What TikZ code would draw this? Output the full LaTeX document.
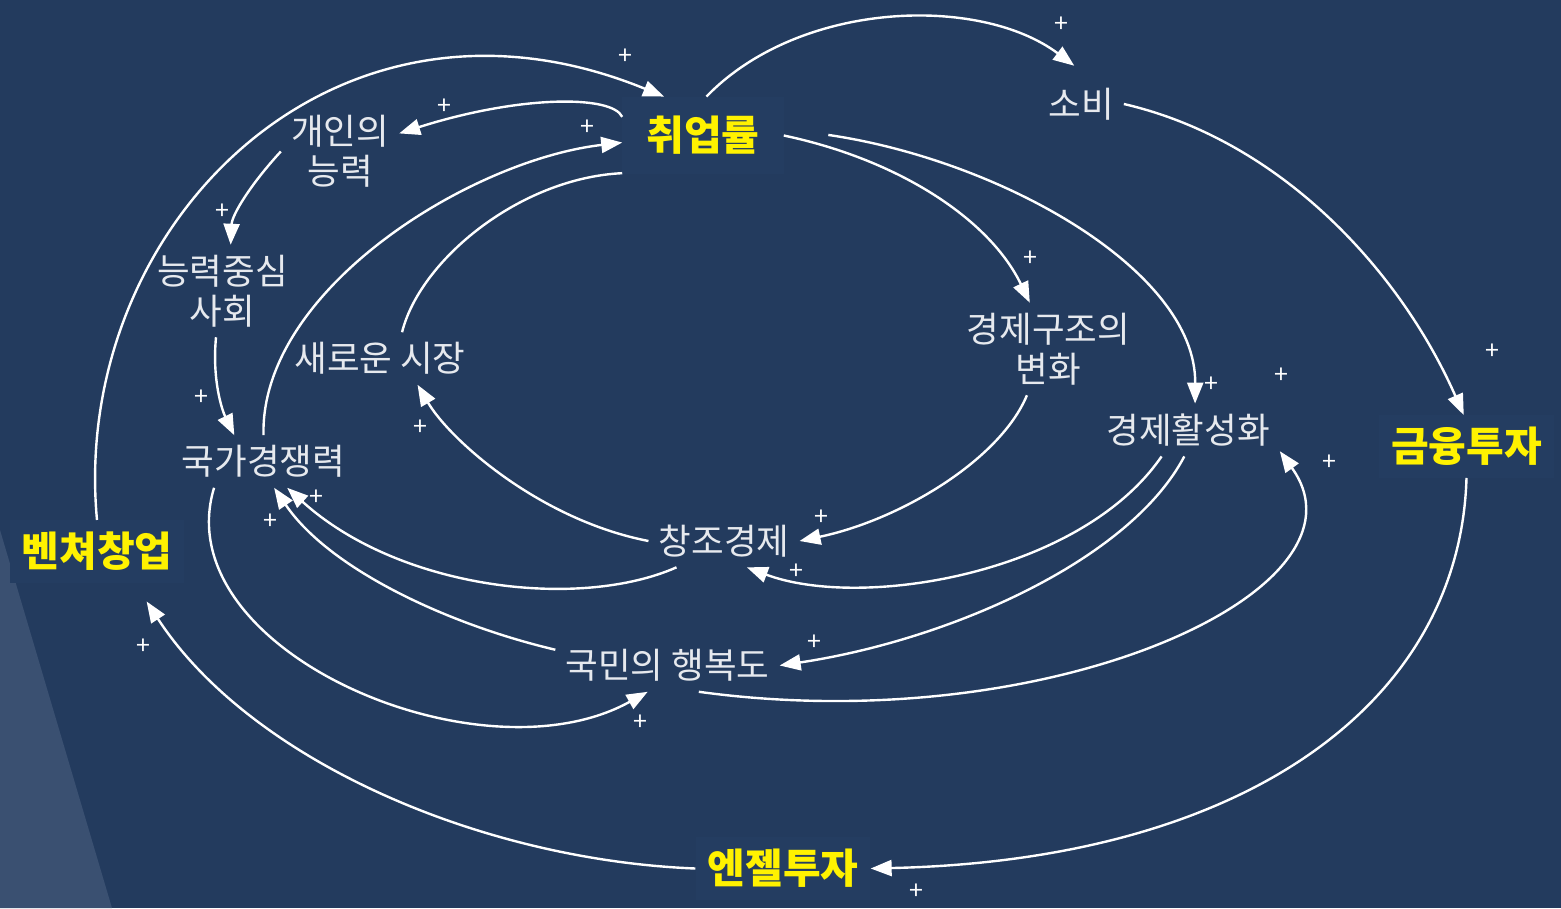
\documentclass[tikz,border=0pt]{standalone}
\usepackage{fontspec}
\newfontfamily\cjk{Noto Sans CJK KR}
\usetikzlibrary{arrows.meta}
\definecolor{navy}{HTML}{233B5E}
\definecolor{boxnavy}{HTML}{243D61}
\definecolor{paleblue}{HTML}{3A5071}
\definecolor{labelgray}{HTML}{E6E9EE}
\tikzset{
  var/.style={text=labelgray, font=\cjk\fontsize{35.5}{40}\selectfont, align=center, inner sep=10pt},
  key/.style={text=yellow, fill=boxnavy, font=\cjk\bfseries\fontsize{41}{44}\selectfont, inner xsep=12pt, inner ysep=12pt},
  link/.style={draw=white, line width=2.4pt, -{Triangle[length=21pt,width=16pt]}},
  sign/.style={text=white, font=\cjk\fontsize{25}{25}\selectfont, inner sep=0pt}
}
\begin{document}
\begin{tikzpicture}[x=1pt,y=-1pt]
  \fill[navy] (0,0) rectangle (1561,908);
  \useasboundingbox (0,0) rectangle (1561,908);
  \fill[paleblue] (0,530) -- (112,908) -- (0,908) -- cycle;

  % key variables
  \node[key, inner xsep=24pt, inner ysep=19.5pt] (emp) at (703,135.5) {취업률};
  \node[key] (fin) at (1466.5,446.5) {금융투자};
  \node[key] (vent) at (97,551.5) {벤쳐창업};
  \node[key] (angel) at (783,868.5) {엔젤투자};

  % other variables
  \node[var, inner ysep=22pt] (soby) at (1081,104) {소비};
  \node[var] (abil) at (340,151.5) {개인의\\능력};
  \node[var] (cent) at (222.5,291) {능력중심\\사회};
  \node[var] (sijang) at (380,358.5) {새로운 시장};
  \node[var] (natl) at (263.5,461.5) {국가경쟁력};
  \node[var] (struct) at (1048.5,349) {경제구조의\\변화};
  \node[var] (boost) at (1188,430) {경제활성화};
  \node[var] (creat) at (724,541) {창조경제};
  \node[var] (happy) at (667.5,665.5) {국민의 행복도};

  % links
  \draw[link] (vent.north) .. controls (70,230) and (330,-40) .. (emp.135);
  \draw[link] (emp.167) .. controls (612,95) and (520,95) .. (abil.17);
  \draw[link] (natl.north) .. controls (260,290) and (470,160) .. (emp.185);
  \draw[link, -] (sijang.50) .. controls (420,260) and (520,178) .. (emp.205);
  \draw[link] (emp.85) .. controls (800,0) and (980,-5) .. (soby.100);
  \draw[link] (emp.east) .. controls (900,160) and (990,220) .. (struct.112);
  \draw[link, shorten <=45pt] (emp.5) .. controls (1000,160) and (1196,270) .. (boost.75);
  \draw[link] (soby.east) .. controls (1280,140) and (1400,270) .. (fin.95);
  \draw[link] (fin.south) .. controls (1460,700) and (1250,860) .. (angel.east);
  \draw[link, shorten >=22pt] (angel.west) .. controls (480,860) and (250,760) .. (vent.320);
  \draw[link] (abil.west) .. controls (250,185) and (232,215) .. (cent.80);
  \draw[link] (cent.262) .. controls (212,380) and (222,410) .. (natl.138);
  \draw[link] (natl.208) .. controls (165,650) and (480,785) .. (happy.233);
  \draw[link] (creat.209) .. controls (580,610) and (400,590) .. (natl.312);
  \draw[link] (happy.172) .. controls (450,625) and (330,570) .. (natl.292);
  \draw[link] (creat.west) .. controls (540,520) and (450,440) .. (sijang.325);
  \draw[link] (struct.245) .. controls (1000,460) and (900,520) .. (creat.east);
  \draw[link] (boost.225) .. controls (1080,575) and (860,610) .. (creat.311);
  \draw[link] (boost.262) .. controls (1130,560) and (950,640) .. (happy.east);
  \draw[link] (happy.320) .. controls (1050,740) and (1380,590) .. (boost.347);

  % polarities
  \foreach \sx/\sy [count=\k] in {625/57, 444/107, 587/128, 1061/25, 1030/259,
      1211/385, 1281/376, 1492/352, 222/212, 201/398, 420/428, 316/498,
      270/522, 1329/463, 821/518, 796/572, 814/643, 640/723, 143/647, 916/892}
    \node[sign] (plus\k) at (\sx,\sy) {+};
\end{tikzpicture}
\end{document}
